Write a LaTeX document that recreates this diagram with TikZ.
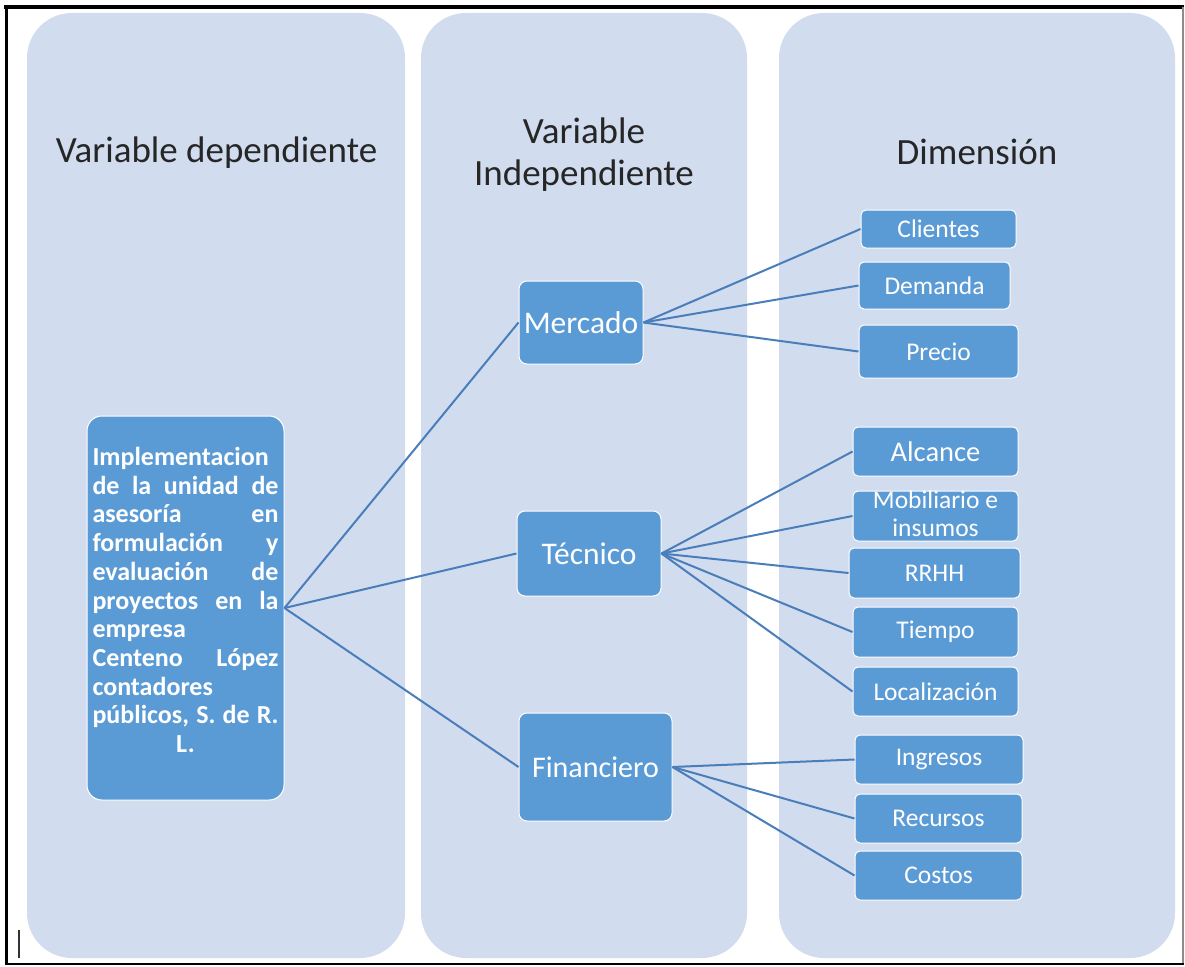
\documentclass[tikz,border=0pt]{standalone}
\usepackage{fontspec}
\setmainfont{Carlito}
\definecolor{colbg}{RGB}{209,220,238}
\definecolor{boxfill}{RGB}{91,155,213}
\definecolor{linkc}{RGB}{74,126,187}
\begin{document}
\begin{tikzpicture}[x=1pt,y=-1pt,
  column/.style={fill=colbg, rounded corners=45pt},
  title/.style={inner sep=0pt, align=center, font=\fontsize{37}{42}\selectfont, text=black!85},
  box/.style={draw=white, line width=1pt, fill=boxfill, text=white, rounded corners=5pt, inner sep=0pt, align=center},
  small/.style={box, font=\fontsize{25.5}{28}\selectfont},
  mid/.style={box, rounded corners=8pt, font=\fontsize{31.5}{36}\selectfont},
  link/.style={draw=linkc, line width=2pt}]
\useasboundingbox (0,0) rectangle (1185,966);
\fill[white] (0,0) rectangle (1185,966);
% columns
\fill[column] (27,13) rectangle (405,958);
\fill[column] (421,13) rectangle (747,958);
\fill[column] (779,13) rectangle (1175,958);
% frame
\draw[black, line width=4pt] (4,7) -- (1184,7);
\draw[black, line width=3.5pt] (6.5,5) -- (6.5,965);
\draw[black!45, line width=1.5pt] (1183,7) -- (1183,965);
\draw[black, line width=2pt] (5,964) -- (1184,964);
\draw[black!80, line width=1.6pt] (19,930) -- (19,958);
% titles
\node[title] (t1) at (216.5,153) {Variable dependiente};
\node[title] (t2) at (584,155) {Variable\\Independiente};
\node[title] (t3) at (977,152) {Dimensión};
% central box
\node[box, rounded corners=15pt, minimum width=197pt, minimum height=384pt, text width=186pt, align=justify,
      font=\fontsize{26}{28.7}\selectfont\bfseries] (cen) at (185.5,608)
 {Implementacion\linebreak de la unidad de\linebreak asesoría en\linebreak formulación y\linebreak evaluación de\linebreak proyectos en la\linebreak empresa\linebreak Centeno López\linebreak contadores\linebreak públicos, S. de R.{\parfillskip=0pt\par}\centering L.\par\vspace{16pt}};
% middle boxes
\node[mid, minimum width=124pt, minimum height=83pt] (mer) at (581,322.5) {Mercado};
\node[mid, minimum width=144pt, minimum height=85pt] (tec) at (589,553.5) {Técnico};
\node[mid, minimum width=153pt, minimum height=108pt, font=\fontsize{30}{36}\selectfont] (fin) at (595.5,767) {Financiero};
% right boxes
\node[small, minimum width=155pt, minimum height=38pt] (cli) at (938.5,229) {Clientes};
\node[small, minimum width=151pt, minimum height=47pt] (dem) at (934.5,285.5) {Demanda};
\node[small, minimum width=159pt, minimum height=53pt] (pre) at (938.5,351.5) {Precio};
\node[small, minimum width=165pt, minimum height=49pt, font=\fontsize{28.5}{32}\selectfont] (alc) at (935.5,451.5) {Alcance};
\node[small, minimum width=165pt, minimum height=50pt] (mob) at (935.5,516)
 {\raisebox{-14pt}{\smash{\begin{tabular}{@{}c@{}}Mobiliario e\\insumos\end{tabular}}}};
\node[small, minimum width=171pt, minimum height=50pt] (rrh) at (934.5,573) {RRHH};
\node[small, minimum width=165pt, minimum height=50pt] (tie) at (935.5,632) {Tiempo};
\node[small, minimum width=165pt, minimum height=49pt] (loc) at (935.5,691.5) {Localización};
\node[small, minimum width=168pt, minimum height=49pt] (ing) at (939,759.5) {Ingresos};
\node[small, minimum width=167pt, minimum height=49pt] (rec) at (938.5,818.5) {Recursos};
\node[small, minimum width=167pt, minimum height=49pt] (cos) at (938.5,875.5) {Costos};
% connectors
\draw[link] (cen.east) -- (mer.west);
\draw[link] (cen.east) -- (tec.west);
\draw[link] (cen.east) -- (fin.west);
\foreach \n in {cli,dem,pre} \draw[link] (mer.east) -- (\n.west);
\foreach \n in {alc,mob,rrh,tie,loc} \draw[link] (tec.east) -- (\n.west);
\foreach \n in {ing,rec,cos} \draw[link] (fin.east) -- (\n.west);
\end{tikzpicture}
\end{document}
